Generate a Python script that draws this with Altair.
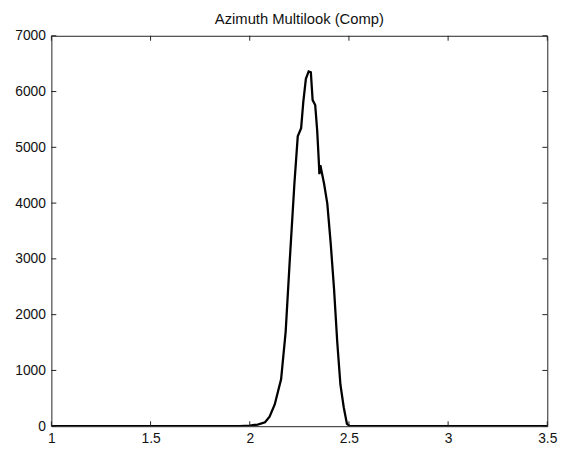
import altair as alt
import pandas as pd

# Data
xs = [1.0, 1.95, 2.0, 2.04, 2.077, 2.10, 2.126, 2.143, 2.158, 2.181, 2.201, 2.225,
      2.242, 2.259, 2.27, 2.283, 2.297, 2.308, 2.317, 2.33, 2.340, 2.348, 2.351,
      2.356, 2.375, 2.391, 2.408, 2.425, 2.441, 2.457, 2.474, 2.49, 2.505, 3.5]
ys = [0, 0, 12, 30, 71, 170, 390, 630, 840, 1692, 2929, 4343,
      5197, 5344, 5816, 6228, 6360, 6346, 5846, 5757, 5300, 4760, 4520,
      4680, 4343, 3990, 3283, 2457, 1515, 748, 336, 41, 0, 0]

x_ticks = [1, 1.5, 2, 2.5, 3, 3.5]
y_ticks = [0, 1000, 2000, 3000, 4000, 5000, 6000, 7000]
title_text = "Azimuth Multilook (Comp)"

W, H = 503, 396
TL = 5  # tick length
FONT = "Liberation Sans"

df = pd.DataFrame({"x": xs, "y": ys})
xt = pd.DataFrame({"x": x_ticks})
yt = pd.DataFrame({"y": y_ticks})

xscale = alt.Scale(domain=[1, 3.5], nice=False, zero=False)
yscale = alt.Scale(domain=[0, 7000], nice=False, zero=False)

xaxis = alt.Axis(values=x_ticks, format="~g", title=None, ticks=False,
                 domain=False, grid=False, labelFlush=False,
                 labelOverlap=False, labelPadding=6)
yaxis = alt.Axis(values=y_ticks, format="d", title=None, ticks=False,
                 domain=False, grid=False, labelPadding=6)

line = alt.Chart(df).mark_line(color="black", strokeWidth=2.3, clip=True).encode(
    x=alt.X("x:Q", scale=xscale, axis=xaxis),
    y=alt.Y("y:Q", scale=yscale, axis=yaxis),
)

tick_bottom = alt.Chart(xt).mark_rule(color="#222", strokeWidth=1).encode(
    x=alt.X("x:Q", scale=xscale, axis=xaxis), y=alt.value(H), y2=alt.value(H - TL))
tick_top = alt.Chart(xt).mark_rule(color="#222", strokeWidth=1).encode(
    x=alt.X("x:Q", scale=xscale, axis=xaxis), y=alt.value(0), y2=alt.value(TL))
tick_left = alt.Chart(yt).mark_rule(color="#222", strokeWidth=1).encode(
    y=alt.Y("y:Q", scale=yscale, axis=yaxis), x=alt.value(0), x2=alt.value(TL))
tick_right = alt.Chart(yt).mark_rule(color="#222", strokeWidth=1).encode(
    y=alt.Y("y:Q", scale=yscale, axis=yaxis), x=alt.value(W), x2=alt.value(W - TL))

chart = alt.layer(line, tick_bottom, tick_top, tick_left, tick_right).properties(
    width=W, height=H,
    title=alt.TitleParams(title_text, font=FONT, fontSize=15, fontWeight="normal",
                          color="#111", anchor="middle", offset=2),
    autosize=alt.AutoSizeParams(type="none"),
    padding={"left": 44, "top": 25, "right": 21, "bottom": 23},
    background="white",
).configure_view(stroke="#222", strokeWidth=1).configure_axis(
    labelFont=FONT, labelFontSize=14, labelColor="#111"
)

chart.save("out.html", embed_options={"renderer": "svg", "actions": False})
